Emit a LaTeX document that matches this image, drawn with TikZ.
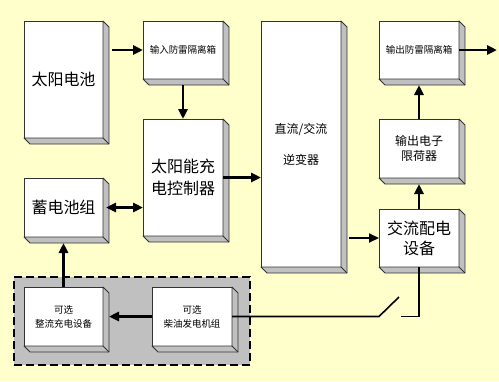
\documentclass[tikz,border=0pt]{standalone}
\usepackage{fontspec}
\newfontfamily\cjk{Noto Sans CJK SC}
\usetikzlibrary{arrows.meta,calc}
\definecolor{bgyellow}{HTML}{FFFFCC}
\definecolor{sidegray}{HTML}{C0C0C0}
\tikzset{
  cube/.style={draw=black!80, line width=0.8pt, fill=white, inner sep=0pt, outer sep=0pt, align=center},
  side/.style={draw=black!80, line width=0.8pt, fill=sidegray, line join=round},
  big/.style={font=\cjk\fontsize{16}{22}\selectfont},
  mid/.style={font=\cjk\fontsize{12}{15}\selectfont},
  small/.style={font=\cjk\fontsize{9.5}{14}\selectfont},
  arr/.style={line width=2.6pt, -{Triangle[length=10pt,width=9pt]}},
  darr/.style={line width=2.6pt, {Triangle[length=10pt,width=9pt]}-{Triangle[length=10pt,width=9pt]}},
  wire/.style={line width=1.6pt},
  optzone/.style={fill=sidegray, draw=black, line width=2pt, dash pattern=on 8pt off 4pt}
}
\newcommand\cubebox[7]{%
  \node[cube, #7, minimum width={(#4-#2)*1pt}, minimum height={(#5-#3)*1pt}] (#1) at ({(#2+#4)/2},{(#3+#5)/2}) {#6};
  \filldraw[side] (#1.north east) -- ++(6,6) -- ($(#1.south east)+(6,6)$) -- ($(#1.south west)+(6,6)$) -- (#1.south west) -- (#1.south east) -- cycle;
  \draw[side] (#1.south east) -- ++(6,6);
}
\begin{document}
\begin{tikzpicture}[x=1pt,y=-1pt]
\useasboundingbox (0,0) rectangle (499,381);
\fill[bgyellow] (0,0) rectangle (499,381);
% optional zone
\node[optzone, minimum width=236pt, minimum height=88pt, inner sep=0pt] (zone) at (132,321) {};
% boxes
\cubebox{A}{24}{21}{103}{138}{太阳电池}{big}
\cubebox{B}{143}{21}{223}{79}{输入防雷隔离箱}{small}
\cubebox{C}{143}{119}{223}{236}{太阳能充\\电控制器}{big}
\cubebox{D}{24}{178}{103}{237}{蓄电池组}{big}
\cubebox{E}{261}{21}{341}{267}{直流/交流\\逆变器}{font=\cjk\fontsize{12}{31}\selectfont}
\cubebox{F}{379}{21}{459}{79}{输出防雷隔离箱}{small}
\cubebox{G}{379}{119}{459}{178}{输出电子\\限荷器}{mid}
\cubebox{H}{379}{209}{459}{267}{交流配电\\设备}{font=\cjk\fontsize{16}{20}\selectfont}
\cubebox{I}{24}{287}{103}{346}{可选\\整流充电设备}{small}
\cubebox{J}{152}{287}{232}{346}{可选\\柴油发电机组}{small}
% connectors
\coordinate (out) at (497,50);
\draw[arr] ($(A.east|-B.west)+(9,0)$) -- (B.west);
\draw[arr] ($(B.south)+(0,6)$) -- (C.north);
\draw[arr] (C.east) -- (C.east -| E.west);
\draw[darr] ($(D.east)+(3,0)$) -- (D.east -| C.west);
\draw[arr, line width=2pt] ($(H.west -| E.east)+(8,0)$) -- (H.west);
\draw[arr] (H.north) -- ($(G.south)+(0,6)$);
\draw[arr] (G.north) -- ($(F.south)+(0,6)$);
\draw[arr] (F.east) -- (out);
\draw[arr] (I.north) -- ($(D.south)+(0,6)$);
\draw[arr] (J.west) -- ($(I.east)+(6,0)$);
\coordinate (sw1) at (379,316.5);
\coordinate (sw2) at (399,297);
\coordinate (sw3) at (401,316.5);
\draw[wire] (J.east) -- (sw1) -- (sw2);
\draw[wire] (sw3) -- (sw3 -| H.south) -- (H.south);
\end{tikzpicture}
\end{document}
